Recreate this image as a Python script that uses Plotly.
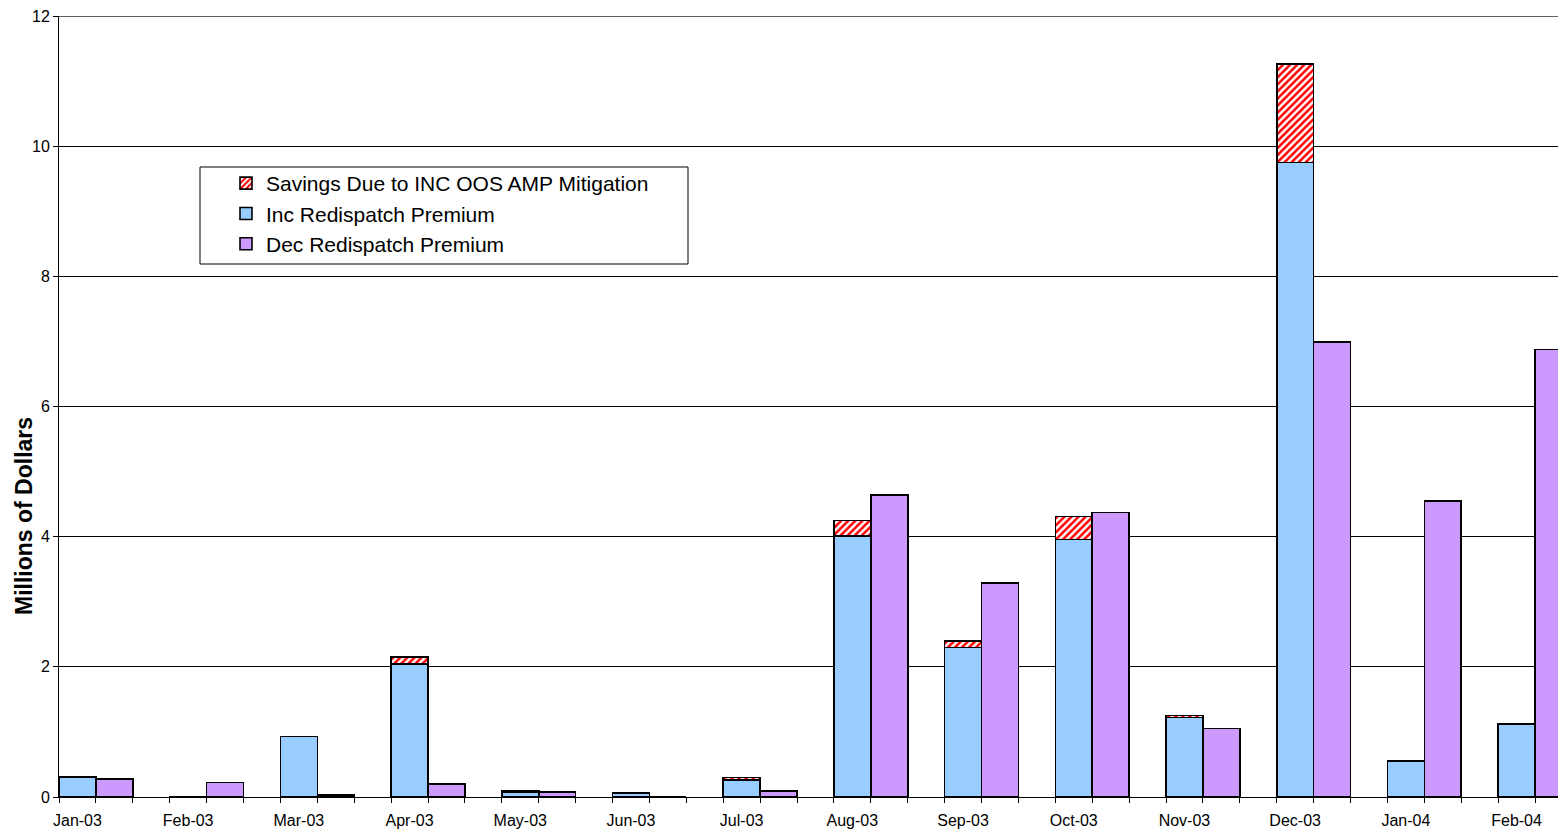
import plotly.graph_objects as go

months = ["Jan-03", "Feb-03", "Mar-03", "Apr-03", "May-03", "Jun-03", "Jul-03",
          "Aug-03", "Sep-03", "Oct-03", "Nov-03", "Dec-03", "Jan-04", "Feb-04"]
inc_premium = [0.30, 0.01, 0.93, 2.04, 0.08, 0.06, 0.26, 4.01, 2.30, 3.96, 1.22, 9.75, 0.55, 1.12]
savings = [0.01, 0.0, 0.0, 0.11, 0.01, 0.0, 0.04, 0.24, 0.10, 0.35, 0.03, 1.51, 0.0, 0.0]
dec_premium = [0.28, 0.22, 0.03, 0.20, 0.08, 0.0, 0.09, 4.64, 3.29, 4.37, 1.05, 6.99, 4.55, 6.88]
y_ticks = [0, 2, 4, 6, 8, 10, 12]

inc_x = [3 * i + 0.5 for i in range(len(months))]
dec_x = [3 * i + 1.5 for i in range(len(months))]

PL, PR, PT, PB = 59, 1558, 16, 797   # plot area in page pixels
W = PR - PL
H = PB - PT
FIG_W, FIG_H = 1558, 830

def px_x(p):
    return (p - PL) / W

def px_y(p):
    return (PB - p) / H

fig = go.Figure()
fig.add_trace(go.Bar(
    x=inc_x, y=inc_premium, width=1, name="Inc Redispatch Premium",
    marker=dict(color="#99CCFF", line=dict(color="black", width=1.6)),
    legendrank=2))
fig.add_trace(go.Bar(
    x=inc_x, y=savings, width=1, name="Savings Due to INC OOS AMP Mitigation",
    marker=dict(color="#FF0000", line=dict(color="black", width=1.6),
                pattern=dict(shape="/", fgcolor="#FF0000", bgcolor="white",
                             size=5, solidity=0.5, fillmode="replace")),
    legendrank=1))
fig.add_trace(go.Bar(
    x=dec_x, y=dec_premium, width=1, name="Dec Redispatch Premium",
    marker=dict(color="#CC99FF", line=dict(color="black", width=1.6)),
    legendrank=3))

fig.update_layout(
    barmode="stack",
    width=FIG_W, height=FIG_H,
    margin=dict(l=PL, r=FIG_W - PR, t=PT, b=FIG_H - PB, autoexpand=False),
    plot_bgcolor="white", paper_bgcolor="white",
    font=dict(family="Liberation Sans, Arial, sans-serif", color="black"),
    showlegend=True,
    legend=dict(
        x=px_x(226), y=px_y(163), xanchor="left", yanchor="top",
        bgcolor="rgba(0,0,0,0)", borderwidth=0,
        font=dict(size=21), traceorder="normal",
        itemwidth=30, tracegroupgap=0,
    ),
    shapes=[
        dict(type="rect", xref="paper", yref="paper",
             x0=px_x(200), x1=px_x(688), y0=px_y(264), y1=px_y(167),
             line=dict(color="black", width=1), fillcolor="white", layer="below"),
        dict(type="line", xref="paper", yref="y",
             x0=0, x1=1, y0=y_ticks[-1], y1=y_ticks[-1],
             line=dict(color="black", width=1), layer="below"),
    ],
    xaxis=dict(
        range=[0, W / 36.9], automargin=False,
        tickmode="array", tickvals=inc_x, ticktext=months,
        ticks="", tickfont=dict(size=16), ticklabelstandoff=9,
        showgrid=False, zeroline=False,
        showline=True, linecolor="black", linewidth=1,
        minor=dict(tickmode="array", tickvals=list(range(0, 43)),
                   ticks="outside", ticklen=5, tickcolor="black", tickwidth=1,
                   showgrid=False),
    ),
    yaxis=dict(
        range=[0, 12.002], tickmode="array", tickvals=y_ticks, automargin=False,
        ticklabeloverflow="allow",
        showgrid=True, gridcolor="black", gridwidth=1,
        zeroline=False, showline=True, linecolor="black", linewidth=1,
        ticks="outside", ticklen=5, tickcolor="black",
        tickfont=dict(size=16),
    ),
    annotations=[dict(
        text="<b>Millions of Dollars</b>", textangle=-90,
        xref="paper", yref="paper",
        x=px_x(24), y=px_y(516),
        xanchor="center", yanchor="middle", showarrow=False,
        font=dict(size=23),
    )],
)

fig.write_html(
    "out.html",
    config={"displayModeBar": False},
    post_script="document.body.style.margin='0';document.body.style.overflow='hidden';",
)
